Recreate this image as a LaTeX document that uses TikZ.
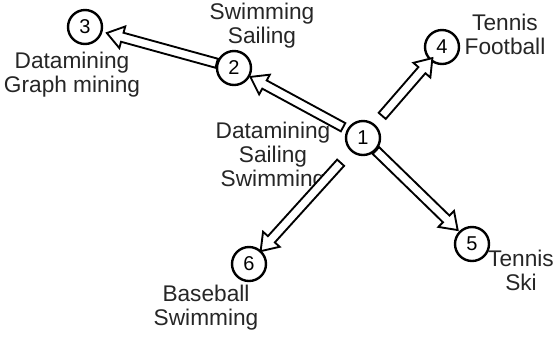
\documentclass[tikz,border=0pt]{standalone}
\usepackage{fontspec}
\setmainfont{Liberation Sans}
\usepackage{tikz}
\usetikzlibrary{calc}
\newcommand{\blockarrow}[4]{
  \path ($(#1.center)!#3!(#2.center)$) coordinate (tail)
        ($(#2.center)!#4!(#1.center)$) coordinate (tip);
  \path ($(tip)!12pt!(tail)$) coordinate (neck);

  \draw[hollow] ($(tail)!3.5pt!90:(tip)$)
             -- ($(neck)!3.5pt!90:(tip)$)
             -- ($(neck)!8.4pt!90:(tip)$)
             -- (tip)
             -- ($(neck)!8.4pt!-90:(tip)$)
             -- ($(neck)!3.5pt!-90:(tip)$)
             -- ($(tail)!3.5pt!-90:(tip)$)
             -- cycle;
}

\begin{document}
\begin{tikzpicture}[x=0.75pt, y=-0.75pt,
    state/.style={draw, circle, line width=1.8pt, minimum size=25.5pt,
                  inner sep=0pt, font=\fontsize{15}{16}\selectfont},
    items/.style={align=center, inner sep=0pt, text=black!85,
                  font=\fontsize{17}{18}\selectfont},
    hollow/.style={draw, fill=white, line width=1.4pt, line join=miter}]
  \useasboundingbox (0, 0) rectangle (553, 337);

  % nodes
  \node[state] (n1) at (363, 138) {1};
  \node[state] (n2) at (234, 68) {2};
  \node[state] (n3) at (85, 27) {3};
  \node[state] (n4) at (442, 47) {4};
  \node[state] (n5) at (472, 244) {5};
  \node[state] (n6) at (249, 264) {6};

  % item sets
  \node[items] (l1) at (273, 157) {Datamining\\Sailing\\Swimming};
  \node[items] (l2) at (262, 26) {Swimming\\Sailing};
  \node[items] (l3) at (72, 75) {Datamining\\Graph mining};
  \node[items] (l4) at (505, 34) {Tennis\\Football};
  \node[items] (l5) at (521, 270) {Tennis\\Ski};
  \node[items] (l6) at (206, 308) {Baseball\\Swimming};

  % edges
  \blockarrow{n1}{n2}{17pt}{14pt}
  \blockarrow{n2}{n3}{13.5pt}{17pt}
  \blockarrow{n1}{n4}{22pt}{11pt}
  \blockarrow{n1}{n5}{13.5pt}{15pt}
  \blockarrow{n1}{n6}{25pt}{13pt}

\end{tikzpicture}
\end{document}
